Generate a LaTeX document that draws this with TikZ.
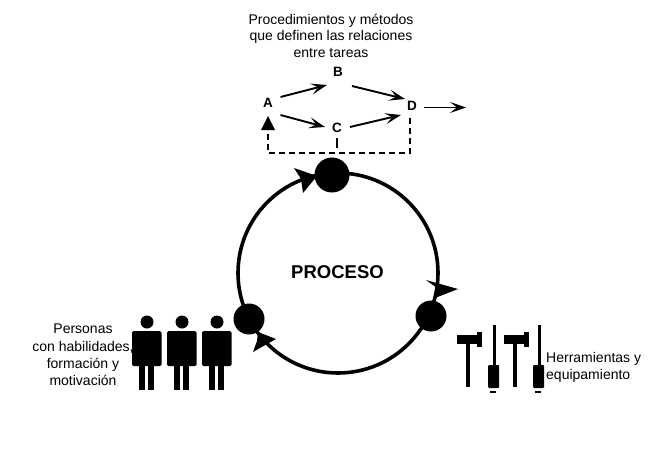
\documentclass[tikz,border=0pt]{standalone}
\usepackage{fontspec}
\setmainfont{Liberation Sans}
\usetikzlibrary{arrows.meta}
\tikzset{
  lbl/.style={inner sep=0pt,font=\fontsize{14}{16.5}\selectfont,align=center},
  letter/.style={inner sep=0pt,font=\fontsize{13.5}{15}\selectfont\bfseries},
  flow/.style={line width=1.9pt,-{Stealth[length=16pt,width=11pt,inset=7pt]}},
  ring/.style={line width=3.6pt},
  hub/.style={circle,fill=black,inner sep=0pt},
  dash link/.style={line width=1.5pt,dash pattern=on 6pt off 4pt},
}
\newcommand{\person}[1]{%
  \fill (#1,322) circle (6.5);
  \fill[rounded corners=1.5pt] (#1-15,331) rectangle (#1+14.5,366);
  \fill (#1-8,365) rectangle (#1-2,390);
  \fill (#1+1,365) rectangle (#1+6.5,390);
}
\newcommand{\hammer}[1]{%
  \fill (#1,335) rectangle (#1+24,344);
  \fill (#1+20,332) rectangle (#1+25,347);
  \fill (#1+9,340) rectangle (#1+13,387);
}
\newcommand{\driver}[1]{%
  \fill (#1+5,325) rectangle (#1+7.5,366);
  \fill[rounded corners=1pt] (#1,365) rectangle (#1+11,388);
  \fill (#1+2,391) rectangle (#1+8,393);
}
\begin{document}
\begin{tikzpicture}[x=1pt,y=-1pt]
\useasboundingbox (0,0) rectangle (672,452);
\fill[white] (0,0) rectangle (672,452);

% ring
\coordinate (ringc) at (338,273);
\draw[ring] (ringc) circle (100);
\node[hub,minimum size=35pt] (top) at (332,175) {};
\node[hub,minimum size=31pt] (right) at (431,316) {};
\node[hub,minimum size=31pt] (left) at (249,319) {};
\fill (294,168) -- (317,176) -- (303,193) -- (301,179) -- cycle;
\fill (426,280) -- (458,289) -- (435,298) -- (437,288) -- cycle;
\fill (258,332) -- (276,339) -- (267,344) -- (253,352) -- (257,341) -- cycle;

\node[inner sep=0pt,font=\fontsize{18.5}{20}\selectfont\bfseries] (proc) at (337.5,272.5) {PROCESO};

% task graph
\node[lbl] (title) at (331,35.5) {Procedimientos y métodos\\que definen las relaciones\\entre tareas};
\node[letter] (A) at (268,103) {A};
\node[letter] (B) at (338,72) {B};
\node[letter] (C) at (337,128) {C};
\node[letter] (D) at (412,106) {D};
\coordinate (outs) at (424,107.5);
\coordinate (out) at (466,107.5);
\coordinate (Dc) at (410,153);
\coordinate (Ac) at (268,153);
\coordinate (Atip) at (268,116);
\draw[flow] (280.5,97) -- (327,85);
\draw[flow] (352,86) -- (405,99);
\draw[flow] (280.5,115) -- (325,127);
\draw[flow] (350,127) -- (401,115);
\draw[line width=1.2pt,-{Stealth[length=16pt,width=11pt,inset=7pt]}] (outs) -- (out);
\draw[dash link] (410,118) -- (Dc) -- (Ac) -- (268,130);
\draw[line width=1.4pt] (337,138) -- (337,148);
\fill (Atip) -- (275,130) -- (261,130) -- cycle;

% people
\person{147}
\person{182}
\person{217}
\node[lbl,font=\fontsize{14}{17.2}\selectfont] (people) at (83,355) {Personas\\con habilidades,\\formación y\\motivación};

% tools
\hammer{457}
\driver{488}
\hammer{504}
\driver{533}
\node[lbl,align=left,anchor=west,font=\fontsize{14}{17}\selectfont] (tools) at (546,367.5) {Herramientas y\\equipamiento};
\end{tikzpicture}
\end{document}
